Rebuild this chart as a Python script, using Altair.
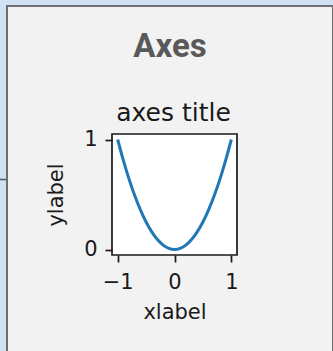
import altair as alt
import pandas as pd

# Curve samples (x, y) for the parabola shown in the small axes
xs = [-1.0, -0.9, -0.8, -0.7, -0.6, -0.5, -0.4, -0.3, -0.2, -0.1, 0.0,
      0.1, 0.2, 0.3, 0.4, 0.5, 0.6, 0.7, 0.8, 0.9, 1.0]
ys = [1.0, 0.81, 0.64, 0.49, 0.36, 0.25, 0.16, 0.09, 0.04, 0.01, 0.0,
      0.01, 0.04, 0.09, 0.16, 0.25, 0.36, 0.49, 0.64, 0.81, 1.0]
x_ticks = [-1, 0, 1]
y_ticks = [0, 1]

panel_title = "Axes"
axes_title = "axes title"
x_label = "xlabel"
y_label = "ylabel"

df = pd.DataFrame({"x": xs, "y": ys})
one = alt.Data(values=[{}])

W, H = 125, 121
MPL_FONT = "DejaVu Sans"

# card behind the figure
panel = alt.Chart(one).mark_rect(
    fill="#f2f2f2", stroke="#6e6e6e", strokeWidth=2
).encode(
    x=alt.value(-105), x2=alt.value(221),
    y=alt.value(-128), y2=alt.value(240),
)

# short separator stub on the left edge
stub = alt.Chart(one).mark_rule(color="#555555", strokeWidth=1.5).encode(
    x=alt.value(-112), x2=alt.value(-106), y=alt.value(45.5)
)

# white axes frame
frame = alt.Chart(one).mark_rect(
    fill="white", stroke="#1a1a1a", strokeWidth=1.7
).encode(
    x=alt.value(0), x2=alt.value(W), y=alt.value(0), y2=alt.value(H)
)

heading = alt.Chart(one).mark_text(
    text=panel_title, font="Roboto", fontWeight="bold", fontSize=33,
    color="#595959", align="center", baseline="alphabetic"
).encode(x=alt.value(58), y=alt.value(-77))

subtitle = alt.Chart(one).mark_text(
    text=axes_title, font=MPL_FONT, fontSize=25, color="#1a1a1a",
    align="center", baseline="alphabetic"
).encode(x=alt.value(61.5), y=alt.value(-13))

curve = alt.Chart(df).mark_line(
    color="#1f77b4", strokeWidth=3, interpolate="monotone"
).encode(
    x=alt.X("x:Q", scale=alt.Scale(domain=[-1.1, 1.1], nice=False, zero=False),
            axis=alt.Axis(values=x_ticks, format="d", title=x_label, zindex=1)),
    y=alt.Y("y:Q", scale=alt.Scale(domain=[-0.05, 1.05], nice=False, zero=False),
            axis=alt.Axis(values=y_ticks, format="d", title=y_label, zindex=1)),
)

chart = alt.layer(panel, stub, frame, heading, subtitle, curve).properties(
    width=W, height=H,
    autosize=alt.AutoSizeParams(type="none"),
    padding={"left": 112, "top": 134, "right": 96, "bottom": 96},
).configure(
    background="#cfe1f2",
).configure_view(
    stroke=None,
).configure_axis(
    domain=False, grid=False,
    tickColor="#1a1a1a", tickSize=7, tickWidth=1.7,
    labelFont=MPL_FONT, labelFontSize=21, labelColor="#1a1a1a",
    titleFont=MPL_FONT, titleFontSize=21, titleFontWeight="normal",
    titleColor="#1a1a1a",
).configure_axisX(labelPadding=9, titlePadding=9).configure_axisY(
    labelPadding=8, titlePadding=17
)

chart.save("out.html", embed_options={"renderer": "svg", "actions": False})
